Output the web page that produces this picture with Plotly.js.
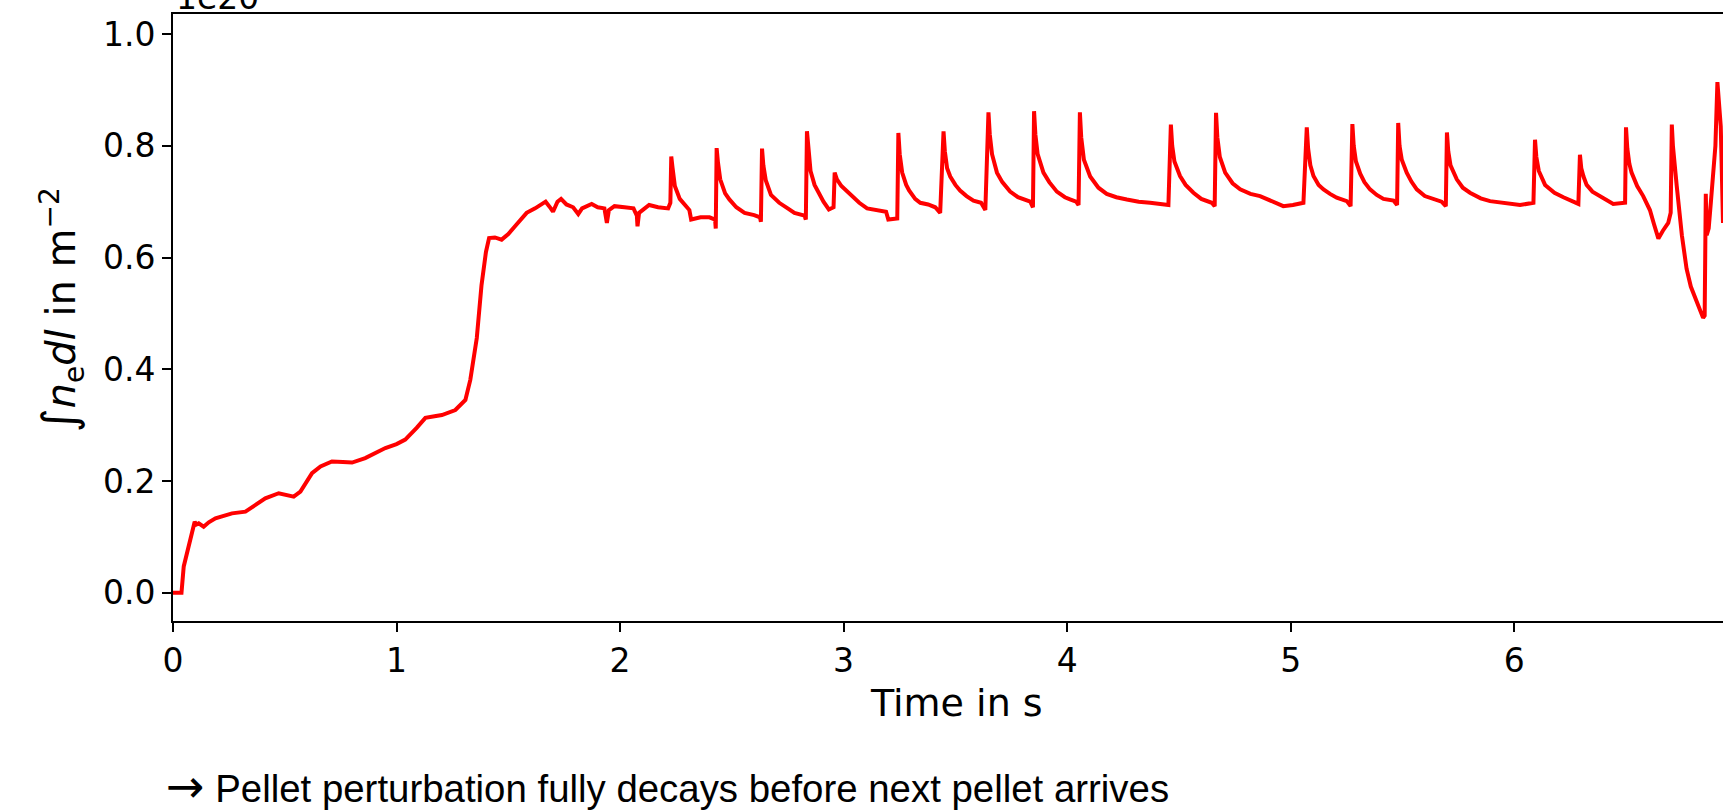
<!DOCTYPE html>
<html>
<head>
<meta charset="utf-8">
<script src="https://cdn.plot.ly/plotly-3.0.1.min.js"></script>
<style>
html, body { margin: 0; padding: 0; overflow: hidden; background: #ffffff; }
#chart { width: 1723px; height: 810px; }
</style>
</head>
<body>
<div id="chart"></div>
<script>
// Time in s
const timeS = [
  0.000, 0.038, 0.048, 0.070, 0.097, 0.105, 0.115, 0.137, 0.160, 0.190,
  0.230, 0.264, 0.324, 0.370, 0.413, 0.473, 0.510, 0.540, 0.570, 0.600,
  0.622, 0.660, 0.711, 0.760, 0.801, 0.860, 0.950, 1.000, 1.039, 1.090,
  1.129, 1.170, 1.203, 1.263, 1.308, 1.330, 1.345, 1.359, 1.380, 1.400,
  1.414, 1.440, 1.470, 1.500, 1.530, 1.560, 1.582, 1.620, 1.667, 1.690,
  1.700, 1.720, 1.736, 1.760, 1.790, 1.813, 1.830, 1.873, 1.900, 1.930,
  1.941, 1.950, 1.975, 2.020, 2.060, 2.075, 2.078, 2.085, 2.130, 2.170,
  2.215, 2.225, 2.229, 2.235, 2.245, 2.267, 2.290, 2.310, 2.318, 2.360,
  2.400, 2.425, 2.428, 2.432, 2.438, 2.448, 2.470, 2.489, 2.520, 2.557,
  2.600, 2.626, 2.630, 2.635, 2.641, 2.652, 2.675, 2.712, 2.750, 2.780,
  2.825, 2.831, 2.836, 2.842, 2.852, 2.870, 2.883, 2.910, 2.934, 2.955,
  2.960, 2.970, 2.990, 3.037, 3.070, 3.105, 3.150, 3.190, 3.200, 3.240,
  3.245, 3.251, 3.262, 3.280, 3.293, 3.320, 3.343, 3.378, 3.410, 3.432,
  3.447, 3.453, 3.463, 3.477, 3.500, 3.521, 3.550, 3.581, 3.615, 3.634,
  3.648, 3.654, 3.664, 3.686, 3.710, 3.745, 3.780, 3.805, 3.835, 3.847,
  3.852, 3.858, 3.868, 3.894, 3.920, 3.954, 3.990, 4.013, 4.040, 4.051,
  4.057, 4.063, 4.075, 4.103, 4.140, 4.177, 4.220, 4.267, 4.320, 4.371,
  4.420, 4.453, 4.464, 4.470, 4.480, 4.505, 4.530, 4.565, 4.600, 4.647,
  4.660, 4.666, 4.672, 4.683, 4.707, 4.740, 4.774, 4.820, 4.863, 4.920,
  4.967, 5.010, 5.057, 5.072, 5.078, 5.088, 5.102, 5.125, 5.147, 5.176,
  5.206, 5.251, 5.268, 5.276, 5.282, 5.292, 5.311, 5.330, 5.355, 5.385,
  5.415, 5.460, 5.476, 5.481, 5.487, 5.497, 5.519, 5.540, 5.564, 5.600,
  5.638, 5.675, 5.694, 5.699, 5.705, 5.715, 5.743, 5.770, 5.802, 5.850,
  5.892, 5.960, 6.026, 6.086, 6.093, 6.099, 6.110, 6.138, 6.180, 6.220,
  6.260, 6.287, 6.294, 6.300, 6.310, 6.324, 6.350, 6.384, 6.420, 6.443,
  6.496, 6.500, 6.506, 6.515, 6.525, 6.550, 6.577, 6.607, 6.625, 6.645,
  6.665, 6.689, 6.700, 6.705, 6.710, 6.718, 6.727, 6.750, 6.771, 6.790,
  6.808, 6.830, 6.845, 6.852, 6.857, 6.861, 6.870, 6.880, 6.891, 6.900,
  6.909, 6.916, 6.924, 6.934
];

// Line-integrated density in units of 1e20 m^-2
const lineDensity = [
  0.000, 0.000, 0.047, 0.082, 0.127, 0.122, 0.124, 0.118, 0.126, 0.133,
  0.137, 0.142, 0.145, 0.157, 0.169, 0.178, 0.175, 0.172, 0.181, 0.200,
  0.214, 0.226, 0.235, 0.234, 0.233, 0.241, 0.259, 0.266, 0.274, 0.295,
  0.313, 0.316, 0.318, 0.327, 0.345, 0.381, 0.420, 0.456, 0.550, 0.610,
  0.635, 0.636, 0.632, 0.642, 0.656, 0.670, 0.680, 0.688, 0.700, 0.688,
  0.682, 0.700, 0.705, 0.695, 0.690, 0.678, 0.688, 0.696, 0.690, 0.688,
  0.662, 0.685, 0.692, 0.690, 0.688, 0.675, 0.656, 0.680, 0.694, 0.690,
  0.688, 0.698, 0.781, 0.760, 0.728, 0.705, 0.695, 0.685, 0.668, 0.672,
  0.672, 0.668, 0.652, 0.796, 0.770, 0.740, 0.715, 0.704, 0.690, 0.680,
  0.676, 0.672, 0.664, 0.795, 0.765, 0.738, 0.712, 0.698, 0.688, 0.680,
  0.675, 0.668, 0.826, 0.790, 0.755, 0.730, 0.720, 0.700, 0.686, 0.690,
  0.752, 0.740, 0.728, 0.710, 0.698, 0.688, 0.684, 0.682, 0.668, 0.670,
  0.823, 0.785, 0.752, 0.730, 0.720, 0.705, 0.698, 0.695, 0.690, 0.680,
  0.826, 0.790, 0.760, 0.745, 0.730, 0.720, 0.710, 0.702, 0.698, 0.685,
  0.860, 0.820, 0.785, 0.752, 0.735, 0.718, 0.708, 0.704, 0.700, 0.690,
  0.862, 0.820, 0.785, 0.752, 0.735, 0.718, 0.708, 0.704, 0.700, 0.694,
  0.860, 0.815, 0.775, 0.745, 0.725, 0.714, 0.708, 0.704, 0.700, 0.698,
  0.696, 0.694, 0.838, 0.800, 0.772, 0.746, 0.730, 0.716, 0.705, 0.698,
  0.692, 0.859, 0.815, 0.780, 0.752, 0.733, 0.722, 0.714, 0.710, 0.700,
  0.692, 0.694, 0.698, 0.833, 0.795, 0.765, 0.746, 0.730, 0.722, 0.714,
  0.707, 0.701, 0.692, 0.839, 0.800, 0.772, 0.750, 0.735, 0.722, 0.712,
  0.705, 0.702, 0.694, 0.841, 0.800, 0.775, 0.752, 0.736, 0.722, 0.710,
  0.704, 0.700, 0.692, 0.824, 0.790, 0.765, 0.740, 0.725, 0.716, 0.706,
  0.701, 0.698, 0.694, 0.698, 0.811, 0.780, 0.755, 0.730, 0.716, 0.708,
  0.700, 0.696, 0.784, 0.760, 0.745, 0.730, 0.718, 0.710, 0.700, 0.696,
  0.698, 0.833, 0.795, 0.768, 0.752, 0.728, 0.710, 0.685, 0.660, 0.634,
  0.648, 0.662, 0.680, 0.838, 0.800, 0.760, 0.728, 0.640, 0.580, 0.548,
  0.530, 0.505, 0.492, 0.496, 0.714, 0.640, 0.652, 0.700, 0.757, 0.800,
  0.914, 0.880, 0.835, 0.662
];

const xTickVals = [0, 1, 2, 3, 4, 5, 6];
const xTickText = ['0', '1', '2', '3', '4', '5', '6'];
const yTickVals = [0.0, 0.2, 0.4, 0.6, 0.8, 1.0];
const yTickText = ['0.0', '0.2', '0.4', '0.6', '0.8', '1.0'];

const tickFont = { family: 'DejaVu Sans', size: 33, color: '#000000' };
const titleFont = { family: 'DejaVu Sans', size: 38, color: '#000000' };
const yTitleFont = { family: 'DejaVu Sans', size: 40, color: '#000000' };

const trace = {
  x: timeS,
  y: lineDensity,
  type: 'scatter',
  mode: 'lines',
  line: { color: '#ff0000', width: 4 },
  hoverinfo: 'skip'
};

const layout = {
  width: 1723,
  height: 810,
  margin: { l: 173, r: 0, t: 14, b: 189, pad: 0 },
  paper_bgcolor: '#ffffff',
  plot_bgcolor: '#ffffff',
  showlegend: false,
  xaxis: {
    range: [0, 6.934],
    tickmode: 'array',
    tickvals: xTickVals,
    ticktext: xTickText,
    ticks: 'outside',
    ticklen: 9,
    tickwidth: 2,
    tickcolor: '#000000',
    showline: true,
    linewidth: 2,
    linecolor: '#000000',
    mirror: true,
    showgrid: false,
    zeroline: false,
    tickfont: tickFont
  },
  yaxis: {
    range: [-0.0507, 1.036],
    tickmode: 'array',
    tickvals: yTickVals,
    ticktext: yTickText,
    ticks: 'outside',
    ticklen: 9,
    tickwidth: 2,
    tickcolor: '#000000',
    showline: true,
    linewidth: 2,
    linecolor: '#000000',
    mirror: false,
    showgrid: false,
    zeroline: false,
    tickfont: tickFont
  },
  annotations: [
    {
      text: '1e20',
      xref: 'paper', yref: 'paper',
      x: 0, y: 1,
      xanchor: 'left', yanchor: 'bottom',
      xshift: 1, yshift: -5,
      showarrow: false,
      font: tickFont
    },
    {
      text: 'Time in s',
      xref: 'paper', yref: 'paper',
      x: 0.5055, y: -0.1343,
      xanchor: 'center', yanchor: 'middle',
      showarrow: false,
      font: titleFont
    },
    {
      text: '<span style="font-size:46px">\u222B</span><i>n</i><sub>e</sub><i>dl</i> in m<sup>\u22122</sup>',
      xref: 'paper', yref: 'paper',
      x: -0.072, y: 0.5124,
      xanchor: 'center', yanchor: 'middle',
      textangle: -90,
      showarrow: false,
      font: yTitleFont
    },
    {
      text: '<span style="font-family:\'DejaVu Sans\';font-size:46px">\u2192</span> Pellet perturbation fully decays before next pellet arrives',
      xref: 'paper', yref: 'paper',
      x: -0.0055, y: -0.2718,
      xanchor: 'left', yanchor: 'middle',
      showarrow: false,
      font: { family: 'Liberation Sans, Arial, sans-serif', size: 38.4, color: '#000000' }
    }
  ]
};

Plotly.newPlot('chart', [trace], layout, { displayModeBar: false, staticPlot: true });
</script>
</body>
</html>
